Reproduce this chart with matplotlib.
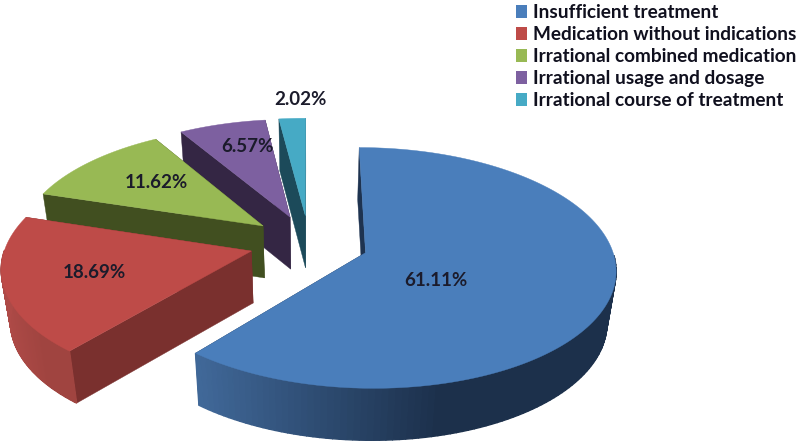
import numpy as np
import matplotlib
matplotlib.use("Agg")
import matplotlib.pyplot as plt
from matplotlib.patches import Patch, Polygon

categories = [
    "Insufficient treatment",
    "Medication without indications",
    "Irrational combined medication",
    "Irrational usage and dosage",
    "Irrational course of treatment",
]
values = [61.11, 18.69, 11.62, 6.57, 2.02]
value_labels = ["61.11%", "18.69%", "11.62%", "6.57%", "2.02%"]

# style
top_colors = ["#4A7EBB", "#BE4B48", "#98B954", "#7D60A0", "#46AAC5"]
cut_colors = ["#1E3350", "#7A302E", "#414F20", "#342644", "#1C4A5A"]
rim_left = ["#41699A", "#AE4A47", "#5A6E2E", "#4A3860", "#2A6577"]
rim_right = ["#1C304B", "#A04440", "#5A6E2E", "#4A3860", "#2A6577"]
label_xy = [(436, 280), (94, 272), (156, 183), (247, 146), (300, 99)]

# projection of the tilted disc to pixel coordinates
CX, CY = 309, 243
RX, RY = 245, 116
PERSP = 0.125
EXPLODE = 0.243
THICK = 52
START = 0.0


def project(u, v):
    d = 1 + PERSP * v
    return CX + RX * u / d, CY - RY * v / d


def lower(x, y):
    return CX + (x - CX) * 0.97, y + THICK


def mix(c1, c2, t):
    a = np.array(matplotlib.colors.to_rgb(c1))
    b = np.array(matplotlib.colors.to_rgb(c2))
    return tuple(a + (b - a) * t)


fig = plt.figure(figsize=(8, 4.43), dpi=100)
ax = fig.add_axes([0, 0, 1, 1])
ax.set_xlim(0, 800)
ax.set_ylim(443, 0)
ax.axis("off")

shares = np.array(values) / sum(values) * 360
edges = START + np.concatenate([[0], np.cumsum(shares)])

# back slices first so the front ones sit on top
for i in reversed(range(len(values))):
    a0, a1 = np.radians(edges[i]), np.radians(edges[i + 1])
    mid = (a0 + a1) / 2
    ou, ov = EXPLODE * np.sin(mid), EXPLODE * np.cos(mid)

    ang = np.linspace(a0, a1, 160)
    x, y = project(ou + np.sin(ang), ov + np.cos(ang))
    px, py = project(ou, ov)
    xl, yl = lower(x, y)
    pxl, pyl = lower(px, py)

    # cut faces, far edge first
    for k in (-1, 0):
        ax.add_patch(Polygon([(x[k], y[k]), (px, py), (pxl, pyl), (xl[k], yl[k])],
                             closed=True, fc=cut_colors[i], ec=cut_colors[i], lw=0.3))

    # outer wall, only the part that faces the viewer, shaded left to right
    for j in range(len(ang) - 1):
        if np.cos(ang[j]) > 0:
            continue
        t = (x[j] - x.min()) / (x.max() - x.min())
        t = min(1, t * 1.7)
        col = mix(rim_left[i], rim_right[i], t)
        ax.add_patch(Polygon([(x[j], y[j]), (x[j + 1], y[j + 1]),
                              (xl[j + 1], yl[j + 1]), (xl[j], yl[j])],
                             closed=True, fc=col, ec=col, lw=1.0))

    # top face
    ax.add_patch(Polygon(np.r_[[(px, py)], np.c_[x, y]], closed=True,
                         fc=top_colors[i], ec=top_colors[i], lw=0.3))

for txt, (lx, ly) in zip(value_labels, label_xy):
    ax.text(lx, ly, txt, ha="center", va="center", fontsize=13.5,
            fontweight="bold", family="Lato", color="#1B1B2B")

handles = [Patch(fc=c, ec="none") for c in top_colors]
ax.legend(handles, categories, loc="upper left", bbox_to_anchor=(0.623, 1.03),
          frameon=False, prop={"family": "Lato", "weight": "bold", "size": 13.7},
          labelspacing=0.27, handlelength=0.6, handleheight=0.7,
          handletextpad=0.3, labelcolor="#10101E")

plt.savefig("out.png", dpi=100)
